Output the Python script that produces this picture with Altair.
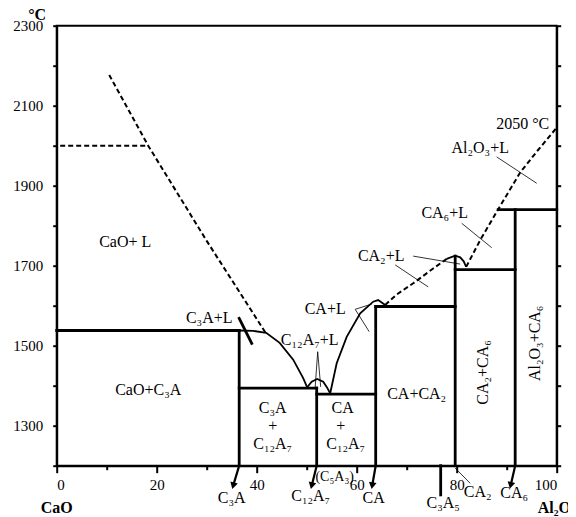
import altair as alt
import pandas as pd

# ---------------- data (wt% Al2O3, temperature °C) ----------------
# thick solid lines: solidus / compound lines
sol_cao_c3a_x = [0, 36.5];      sol_cao_c3a_t = [1538, 1538]
c3a_x = [36.5, 36.5];           c3a_t = [1538, 1200]
sol_c3a_c12a7_x = [36.5, 52.0]; sol_c3a_c12a7_t = [1394, 1394]
c12a7_x = [52.0, 52.0];         c12a7_t = [1394, 1200]
sol_c12a7_ca_x = [52.0, 63.8];  sol_c12a7_ca_t = [1379, 1379]
ca_x = [63.8, 63.8];            ca_t = [1598, 1200]
sol_ca_ca2_x = [63.8, 79.7];    sol_ca_ca2_t = [1598, 1598]
ca2_x = [79.7, 79.7];           ca2_t = [1724, 1200]
sol_ca2_ca6_x = [79.7, 91.7];   sol_ca2_ca6_t = [1690, 1690]
ca6_x = [91.7, 91.7];           ca6_t = [1840, 1200]
sol_ca6_al_x = [88.3, 100];     sol_ca6_al_t = [1840, 1840]
c3a_mark_x = [36.5, 39.0];      c3a_mark_t = [1568, 1506]
c3a5_x = [76.8, 76.8];          c3a5_t = [1200, 1127]

# solid liquidus curves
liq_c3a_x = [36.5, 39.3, 41.9, 44.6, 47.3, 49.3, 50.1]
liq_c3a_t = [1538, 1537, 1532, 1507, 1465, 1419, 1396]
liq_c12a7_x = [50.1, 51.0, 52.1, 53.3, 54.0, 54.7]
liq_c12a7_t = [1396, 1410, 1417, 1410, 1397, 1381]
liq_ca_x = [54.7, 56.0, 58.0, 60.7, 63.3, 64.3, 65.7]
liq_ca_t = [1381, 1456, 1522, 1581, 1610, 1614, 1602]
liq_ca2_top_x = [78.0, 79.7, 80.7, 81.4, 81.9]
liq_ca2_top_t = [1717, 1725, 1721, 1711, 1697]

# dashed liquidus curves
liq_cao_x = [10.5, 18.3, 30.0, 41.8]
liq_cao_t = [2177, 2000, 1762, 1532]
cao_2000_x = [0.7, 18.3]
cao_2000_t = [2000, 2000]
liq_ca2_x = [65.7, 68.0, 71.3, 75.3, 78.0]
liq_ca2_t = [1602, 1628, 1656, 1693, 1717]
liq_ca6_x = [81.9, 84.7, 88.3, 92.7, 96.2, 100.0]
liq_ca6_t = [1697, 1764, 1841, 1933, 1988, 2045]

# thin leader lines
lead_c12a7_x = [51.7, 52.2, 52.8];  lead_c12a7_t = [1397, 1485, 1397]
lead_ca_x = [63.0, 59.7, 62.5];     lead_ca_t = [1604, 1591, 1535]
lead_ca2a_x = [71.3, 80.7];         lead_ca2a_t = [1724, 1704]
lead_ca2b_x = [67.7, 74.3];         lead_ca2b_t = [1702, 1647]
lead_ca6_x = [81.0, 87.0];          lead_ca6_t = [1806, 1745]
lead_al_x = [88.0, 96.0];           lead_al_t = [1972, 1906]
lead_ca2_bot_x = [79.7, 82.7];      lead_ca2_bot_t = [1194, 1156]

# arrows below the composition axis (shaft start, tip)
arrow_names = ["C3A", "C12A7", "CA", "CA6"]
arrow_x0 = [36.5, 52.0, 63.8, 91.7]
arrow_x1 = [35.3, 51.0, 63.1, 90.8]
arrow_t0 = [1200, 1200, 1200, 1200]
arrow_t1 = [1150, 1150, 1150, 1151]
arrow_angle = [16, 14, 10, 13]

# labels
lab_text = ["CaO+ L", "CaO+C\u2083A", "C\u2083A+L", "C\u2081\u2082A\u2087+L", "CA+L",
            "CA\u2082+L", "CA\u2086+L", "Al\u2082O\u2083+L", "2050 \u00b0C",
            "C\u2083A", "+", "C\u2081\u2082A\u2087", "CA", "+", "C\u2081\u2082A\u2087",
            "CA+CA\u2082",
            "C\u2083A", "C\u2081\u2082A\u2087", "CA", "C\u2083A\u2085",
            "CA\u2082", "CA\u2086"]
lab_x = [13.7, 18.3, 30.5, 50.6, 53.7, 64.9, 77.6, 84.7, 93.2,
         43.2, 43.2, 43.2, 57.2, 56.8, 57.8, 72.0,
         35.0, 50.8, 63.4, 77.3, 84.2, 91.5]
lab_t = [1759, 1389, 1570, 1514, 1592, 1724, 1832, 1994, 2054,
         1344, 1300, 1254, 1344, 1300, 1254, 1379,
         1118, 1125, 1118, 1106, 1135, 1131]

small_text = ["(C\u2085A\u2083)"]
small_x = [55.6]
small_t = [1172]

rot_text = ["CA\u2082+CA\u2086", "Al\u2082O\u2083+CA\u2086"]
rot_x = [85.3, 95.7]
rot_t = [1433, 1506]

bold_text = ["CaO", "Al\u2082O\u2083", "\u00b0C"]
bold_x = [0.0, 100.0, -3.9]
bold_t = [1094, 1094, 2326]

# ---------------- build tables ----------------
segs = [
    ("thick", sol_cao_c3a_x, sol_cao_c3a_t), ("thick", c3a_x, c3a_t),
    ("thick", sol_c3a_c12a7_x, sol_c3a_c12a7_t), ("thick", c12a7_x, c12a7_t),
    ("thick", sol_c12a7_ca_x, sol_c12a7_ca_t), ("thick", ca_x, ca_t),
    ("thick", sol_ca_ca2_x, sol_ca_ca2_t), ("thick", ca2_x, ca2_t),
    ("thick", sol_ca2_ca6_x, sol_ca2_ca6_t), ("thick", ca6_x, ca6_t),
    ("thick", sol_ca6_al_x, sol_ca6_al_t), ("thick", c3a_mark_x, c3a_mark_t),
    ("thick", c3a5_x, c3a5_t),
    ("liq", liq_c3a_x, liq_c3a_t), ("liq", liq_c12a7_x, liq_c12a7_t),
    ("liq", liq_ca_x, liq_ca_t), ("liq", liq_ca2_top_x, liq_ca2_top_t),
    ("dash", liq_cao_x, liq_cao_t), ("dash", cao_2000_x, cao_2000_t),
    ("dash", liq_ca2_x, liq_ca2_t), ("dash", liq_ca6_x, liq_ca6_t),
    ("thin", lead_c12a7_x, lead_c12a7_t), ("thin", lead_ca_x, lead_ca_t),
    ("thin", lead_ca2a_x, lead_ca2a_t), ("thin", lead_ca2b_x, lead_ca2b_t),
    ("thin", lead_ca6_x, lead_ca6_t), ("thin", lead_al_x, lead_al_t),
    ("thin", lead_ca2_bot_x, lead_ca2_bot_t),
]
for k in range(len(arrow_names)):
    segs.append(("arrow", [arrow_x0[k], arrow_x1[k]], [arrow_t0[k], arrow_t1[k]]))

rows = []
for sid, (style, xs, ts) in enumerate(segs):
    for i, (xv, tv) in enumerate(zip(xs, ts)):
        rows.append({"seg": sid, "style": style, "x": xv, "t": tv, "i": i})
lines = pd.DataFrame(rows)

heads = pd.DataFrame({"x": arrow_x1, "t": arrow_t1, "ang": arrow_angle})
labels = pd.DataFrame({"text": lab_text, "x": lab_x, "t": lab_t})
slabels = pd.DataFrame({"text": small_text, "x": small_x, "t": small_t})
rlabels = pd.DataFrame({"text": rot_text, "x": rot_x, "t": rot_t})
blabels = pd.DataFrame({"text": bold_text, "x": bold_x, "t": bold_t})

FONT = "Liberation Serif"
xscale = alt.Scale(domain=[0, 100], nice=False, zero=False)
yscale = alt.Scale(domain=[1200, 2300], nice=False, zero=False)

x_axis = alt.Axis(values=list(range(0, 101, 10)),
                  labelExpr="datum.value % 20 === 0 ? datum.label : ''",
                  format="d", title=None, grid=False,
                  tickSize={"condition": {"test": "datum.value % 20 === 0", "value": 7}, "value": 4},
                  tickWidth=2, tickColor="black", domainColor="black", domainWidth=2,
                  labelFont=FONT, labelFontSize=15, labelColor="black", labelPadding=5)
y_left = alt.Axis(values=list(range(1200, 2301, 100)),
                  labelExpr="datum.value % 200 === 100 ? datum.label : ''",
                  format="d", title=None, grid=False, orient="left",
                  tickSize=4, tickWidth=2, tickColor="black", domainColor="black", domainWidth=2,
                  labelFont=FONT, labelFontSize=15, labelColor="black", labelPadding=10)
y_right = alt.Axis(values=list(range(1200, 2301, 100)), labels=False,
                   title=None, grid=False, orient="right",
                   tickSize=4, tickWidth=2, tickColor="black", domainColor="black", domainWidth=2)

X = alt.X("x:Q", scale=xscale, axis=x_axis)
def Y(axis=None):
    return alt.Y("t:Q", scale=yscale, axis=axis)

base = alt.Chart(lines)
thick = base.transform_filter("datum.style === 'thick'").mark_line(
    color="black", strokeWidth=2.8, strokeCap="square").encode(
    x=X, y=Y(y_left), detail="seg:N", order="i:Q")
dash = base.transform_filter("datum.style === 'dash'").mark_line(
    color="black", strokeWidth=2, strokeDash=[5, 3]).encode(
    x=X, y=Y(y_right), detail="seg:N", order="i:Q")
liq = base.transform_filter("datum.style === 'liq'").mark_line(
    color="black", strokeWidth=1.8).encode(
    x=X, y=Y(), detail="seg:N", order="i:Q")
thin = base.transform_filter("datum.style === 'thin'").mark_line(
    color="black", strokeWidth=0.8).encode(
    x=X, y=Y(), detail="seg:N", order="i:Q")
arrows = base.transform_filter("datum.style === 'arrow'").mark_line(
    color="black", strokeWidth=2.2).encode(
    x=X, y=Y(), detail="seg:N", order="i:Q")
arrowheads = alt.Chart(heads).mark_point(
    shape="triangle-down", filled=True, size=60, color="black", opacity=1).encode(
    x=X, y=Y(), angle=alt.Angle("ang:Q", scale=None))

txt = alt.Chart(labels).mark_text(font=FONT, fontSize=16, color="black").encode(
    x=X, y=Y(), text="text:N")
stxt = alt.Chart(slabels).mark_text(font=FONT, fontSize=14, color="black").encode(
    x=X, y=Y(), text="text:N")
rtxt = alt.Chart(rlabels).mark_text(font=FONT, fontSize=16, color="black", angle=270).encode(
    x=X, y=Y(), text="text:N")
btxt = alt.Chart(blabels).mark_text(font=FONT, fontSize=16, fontWeight="bold", color="black").encode(
    x=X, y=Y(), text="text:N")

chart = alt.layer(thick, dash, liq, thin, arrows, arrowheads, txt, stxt, rtxt, btxt).resolve_axis(
    y="independent").properties(
    width=500, height=440,
    autosize=alt.AutoSizeParams(type="none"),
    padding={"left": 48.7, "top": 17.7, "right": 11, "bottom": 52},
    background="white",
).configure_view(stroke="black", strokeWidth=2)

chart.save("out.html", embed_options={"renderer": "svg", "actions": False})
